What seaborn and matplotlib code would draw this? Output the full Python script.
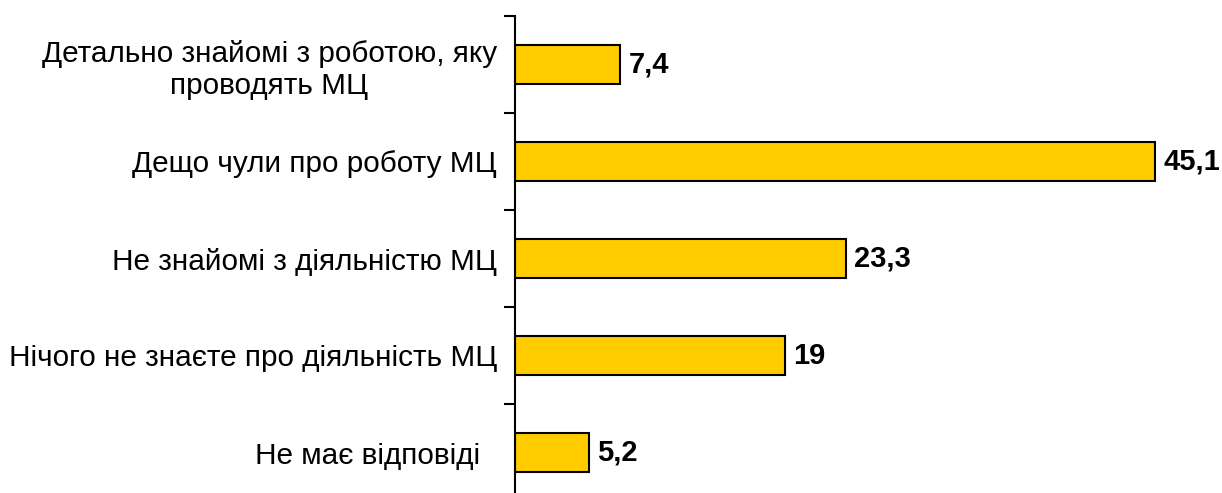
import matplotlib
matplotlib.use("Agg")
import matplotlib.pyplot as plt
import seaborn as sns
import pandas as pd
from matplotlib.ticker import FixedLocator

categories = [
    "Детально знайомі з роботою, яку\nпроводять МЦ",
    "Дещо чули про роботу МЦ",
    "Не знайомі з діяльністю МЦ",
    "Нічого не знаєте про діяльність МЦ",
    "Не має відповіді  ",
]
values = [7.4, 45.1, 23.3, 19, 5.2]
value_labels = ["7,4", "45,1", "23,3", "19", "5,2"]

sns.set_theme(style="white")
plt.rcParams['font.family'] = ['Liberation Sans', 'DejaVu Sans']
plt.rcParams['text.color'] = 'black'
plt.rcParams['ytick.color'] = 'black'
plt.rcParams['ytick.labelcolor'] = 'black'

df = pd.DataFrame({"cat": categories, "val": values})

fig = plt.figure(figsize=(12.22, 4.93), dpi=100)
W, H = 1222, 493
ax = fig.add_axes([515 / W, 0, (1222 - 515) / W, (493 - 16) / H])

sns.barplot(data=df, y="cat", x="val", orient="h", color="#FFCC00",
            edgecolor="black", linewidth=1.5, width=0.4, saturation=1, ax=ax)

ax.set_xlim(0, (1222 - 515) / 14.2)
ax.set_ylim(-0.5 + 477 / 97, -0.5)

for i, (v, lab) in enumerate(zip(values, value_labels)):
    ax.text(v + 0.6, i, lab, va="center", ha="left", fontsize=21,
            fontweight="bold", color="black")

ax.set_xlabel("")
ax.set_ylabel("")
ax.set_xticks([])
for s in ["top", "right", "bottom"]:
    ax.spines[s].set_visible(False)
ax.spines["left"].set_color("black")
ax.spines["left"].set_linewidth(1.5)

ax.set_yticks(range(len(categories)))
ax.set_yticklabels(categories, fontsize=21.4, multialignment="center", color="black")
ax.tick_params(axis="y", which="major", length=0, pad=13)
ax.yaxis.set_minor_locator(FixedLocator([-0.5, 0.5, 1.5, 2.5, 3.5]))
ax.tick_params(axis="y", which="minor", left=True, length=8, width=1.5, color="black")

fig.savefig("out.png", dpi=100)
